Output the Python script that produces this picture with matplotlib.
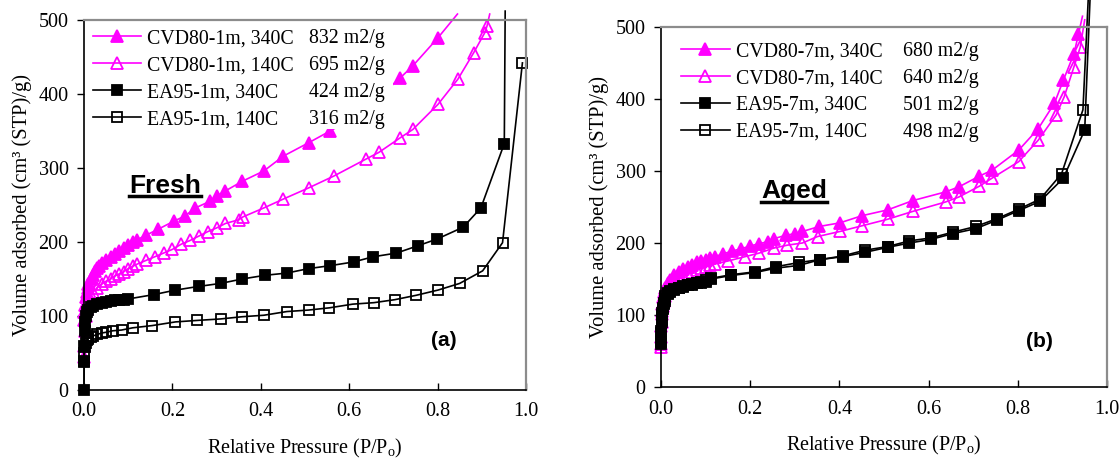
import matplotlib
matplotlib.use("Agg")
import matplotlib.pyplot as plt
from matplotlib.lines import Line2D
from matplotlib.patches import Rectangle
import matplotlib.ticker as ticker

plt.rcParams['font.family'] = ['Liberation Serif', 'DejaVu Serif']
plt.rcParams['mathtext.fontset'] = 'custom'
plt.rcParams['mathtext.rm'] = 'Liberation Serif'

MAGENTA = '#FF00FF'

# ---- (a) Fresh ----
a_cvd340_x = [0.0005, 0.001, 0.002, 0.004, 0.006, 0.008, 0.01, 0.015, 0.02, 0.025, 0.03, 0.035, 0.04,
              0.05, 0.06, 0.07, 0.08, 0.09, 0.1, 0.11, 0.12, 0.14, 0.167, 0.203, 0.228, 0.252, 0.285,
              0.3, 0.32, 0.358, 0.407, 0.451, 0.508, 0.557, 0.61, 0.66, 0.716, 0.744, 0.801, 0.845]
a_cvd340_y = [95, 105, 115, 125, 132, 138, 143, 150, 156, 161, 165, 168, 171,
              176, 180, 184, 188, 192, 196, 200, 203, 209, 217, 228, 235, 246, 255,
              262, 269, 282, 296, 316, 334, 350, 368, 392, 422, 438, 476, 508]

a_cvd140_x = [0.0005, 0.001, 0.002, 0.004, 0.006, 0.008, 0.01, 0.015, 0.02, 0.03, 0.04, 0.05, 0.06,
              0.07, 0.08, 0.09, 0.1, 0.11, 0.12, 0.14, 0.16, 0.18, 0.2, 0.22, 0.24, 0.26, 0.28, 0.3,
              0.32, 0.35, 0.36, 0.407, 0.451, 0.508, 0.565, 0.638, 0.667, 0.716, 0.744, 0.801,
              0.846, 0.882, 0.907, 0.912, 0.918]
a_cvd140_y = [45, 60, 80, 100, 110, 117, 122, 128, 132, 138, 143, 147, 150,
              154, 157, 160, 164, 167, 170, 175, 180, 185, 190, 197, 202, 208, 214, 219,
              225, 230, 234, 246, 258, 273, 289, 312, 321, 341, 352, 386,
              420, 456, 483, 492, 508]

a_ea340_x = [0.0, 0.0005, 0.001, 0.002, 0.003, 0.005, 0.007, 0.01, 0.015, 0.02, 0.03, 0.04, 0.05,
             0.06, 0.07, 0.08, 0.09, 0.1, 0.159, 0.207, 0.26, 0.309, 0.358, 0.41, 0.459, 0.508,
             0.557, 0.61, 0.654, 0.707, 0.756, 0.799, 0.858, 0.898, 0.951, 0.953]
a_ea340_y = [0, 38, 60, 80, 92, 100, 105, 108, 112, 114, 116, 118, 119,
             120, 121, 122, 122, 123, 129, 135, 140, 144, 150, 155, 158, 164,
             168, 173, 180, 185, 195, 204, 220, 246, 333, 512]

a_ea140_x = [0.0005, 0.001, 0.002, 0.004, 0.006, 0.008, 0.01, 0.015, 0.02, 0.03, 0.04, 0.05, 0.065,
             0.085, 0.11, 0.154, 0.207, 0.256, 0.309, 0.358, 0.407, 0.459, 0.508, 0.555, 0.608,
             0.656, 0.703, 0.752, 0.801, 0.85, 0.902, 0.947, 0.992]
a_ea140_y = [39, 50, 58, 64, 67, 69, 70, 72, 73, 75, 77, 78, 80,
             81, 84, 87, 92, 94, 96, 99, 101, 106, 108, 111, 116,
             118, 122, 128, 135, 144, 161, 199, 442]

# ---- (b) Aged ----
b_cvd340_x = [0.0005, 0.001, 0.002, 0.003, 0.005, 0.007, 0.01, 0.015, 0.02, 0.03, 0.04, 0.05, 0.06,
              0.07, 0.08, 0.09, 0.1, 0.11, 0.12, 0.14, 0.16, 0.18, 0.2, 0.22, 0.24, 0.253, 0.281,
              0.301, 0.317, 0.355, 0.401, 0.451, 0.508, 0.565, 0.638, 0.668, 0.714, 0.742, 0.802,
              0.846, 0.882, 0.902, 0.926, 0.936, 0.945]
b_cvd340_y = [60, 85, 105, 115, 125, 132, 138, 145, 149, 155, 160, 164, 167,
              170, 173, 175, 177, 179, 181, 185, 189, 192, 196, 199, 202, 206, 211,
              213, 216, 223, 228, 238, 246, 259, 271, 278, 293, 301, 329,
              359, 394, 426, 463, 490, 515]

b_cvd140_x = [0.0005, 0.001, 0.002, 0.003, 0.005, 0.007, 0.01, 0.015, 0.02, 0.03, 0.04, 0.05, 0.06,
              0.07, 0.08, 0.09, 0.1, 0.11, 0.12, 0.15, 0.188, 0.22, 0.253, 0.283, 0.317, 0.351,
              0.401, 0.451, 0.508, 0.565, 0.638, 0.668, 0.714, 0.742, 0.802, 0.846, 0.886, 0.904,
              0.926, 0.94, 0.95]
b_cvd140_y = [55, 70, 90, 102, 112, 120, 127, 134, 139, 145, 150, 154, 157,
              160, 163, 165, 167, 169, 171, 175, 181, 186, 193, 197, 200, 209,
              216, 224, 233, 244, 257, 264, 279, 290, 313, 343, 378, 403,
              445, 472, 510]

b_ea340_x = [0.0005, 0.001, 0.002, 0.003, 0.004, 0.006, 0.008, 0.01, 0.015, 0.02, 0.03, 0.04, 0.05,
             0.06, 0.07, 0.08, 0.09, 0.1, 0.112, 0.158, 0.211, 0.257, 0.31, 0.357, 0.407, 0.457,
             0.508, 0.557, 0.605, 0.654, 0.706, 0.754, 0.802, 0.85, 0.902, 0.95, 0.962]
b_ea340_y = [60, 75, 90, 100, 108, 115, 120, 124, 129, 132, 135, 137, 139,
             141, 142, 144, 145, 146, 150, 155, 159, 165, 169, 177, 181, 187,
             194, 200, 205, 213, 220, 232, 245, 258, 290, 357, 540]

b_ea140_x = [0.0005, 0.001, 0.002, 0.003, 0.004, 0.006, 0.008, 0.01, 0.015, 0.02, 0.03, 0.04, 0.05,
             0.06, 0.07, 0.08, 0.09, 0.1, 0.112, 0.158, 0.211, 0.257, 0.31, 0.357, 0.407, 0.457,
             0.508, 0.557, 0.605, 0.654, 0.706, 0.754, 0.802, 0.85, 0.898, 0.946, 0.958]
b_ea140_y = [62, 78, 93, 103, 110, 117, 122, 126, 130, 133, 136, 138, 140,
             142, 143, 145, 146, 148, 151, 156, 160, 167, 173, 177, 182, 190,
             195, 203, 207, 215, 223, 234, 247, 261, 296, 385, 540]

a_names = ['CVD80-1m, 340C', 'CVD80-1m, 140C', 'EA95-1m, 340C', 'EA95-1m, 140C']
a_areas = ['832 m2/g', '695 m2/g', '424 m2/g', '316 m2/g']
b_names = ['CVD80-7m, 340C', 'CVD80-7m, 140C', 'EA95-7m, 340C', 'EA95-7m, 140C']
b_areas = ['680 m2/g', '640 m2/g', '501 m2/g', '498 m2/g']

x_ticks = [0.0, 0.2, 0.4, 0.6, 0.8, 1.0]
y_ticks = [0, 100, 200, 300, 400, 500]

# marker styles for the four series: (color, marker, filled, size)
styles = [(MAGENTA, '^', True, 8), (MAGENTA, '^', False, 8),
          ('black', 's', True, 6.5), ('black', 's', False, 6.5)]


def draw_series(ax, xs, ys, st, cut_top):
    color, marker, filled, ms = st
    n = len(xs)
    # last point lies above the frame: keep its line but not its marker
    every = list(range(n - 1)) if cut_top else list(range(n))
    ax.plot(xs, ys, color=color, lw=1.2, marker=marker, ms=ms, markevery=every,
            mfc=color if filled else 'none', mec=color, mew=1.3, clip_on=False, zorder=2)


def setup_axes(ax):
    ax.set_xlim(0, 1.0)
    ax.set_ylim(0, 500)
    ax.set_xticks(x_ticks)
    ax.set_yticks(y_ticks)
    ax.xaxis.set_major_formatter(ticker.FormatStrFormatter('%.1f'))
    ax.tick_params(axis='x', direction='in', length=5, width=1, pad=9, labelsize=14.5, top=False)
    ax.tick_params(axis='y', direction='out', length=5, width=1, pad=6, labelsize=14.5, right=False)
    for side in ['top', 'right']:
        ax.spines[side].set_color('#8c8c8c')
        ax.spines[side].set_linewidth(1.6)
    for side in ['left', 'bottom']:
        ax.spines[side].set_color('black')
        ax.spines[side].set_linewidth(1.2)
    ax.set_xlabel('Relative Pressure (P/P$_\\mathregular{o}$)', fontsize=14.5, labelpad=11)
    ax.set_ylabel('Volume adsorbed (cm\u00b3 (STP)/g)', fontsize=14.8, labelpad=5)


def add_legend(ax, names, areas, x0, x1, y0):
    handles = []
    for st in styles:
        color, marker, filled, ms = st
        handles.append(Line2D([], [], color=color, lw=1.2, marker=marker, ms=ms,
                              mfc=color if filled else 'none', mec=color, mew=1.3))
    leg = ax.legend(handles, names, loc='upper left', bbox_to_anchor=(x0, y0), frameon=False,
                    fontsize=14.3, handlelength=2.45, handletextpad=0.3, labelspacing=0.4,
                    borderpad=0, borderaxespad=0, numpoints=1)
    leg.set_zorder(5)
    ax.add_artist(leg)
    blanks = [Line2D([], [], lw=0) for _ in areas]
    leg2 = ax.legend(blanks, areas, loc='upper left', bbox_to_anchor=(x1, y0), frameon=False,
                     fontsize=14.3, handlelength=0, handletextpad=0, labelspacing=0.4,
                     borderpad=0, borderaxespad=0)
    leg2.set_zorder(5)


fig = plt.figure(figsize=(11.2, 4.58), dpi=100)
ax1 = fig.add_axes([0.075, 0.1485, 0.3946, 0.8079])
ax2 = fig.add_axes([0.5902, 0.155, 0.3982, 0.786])

for ax in [ax1, ax2]:
    setup_axes(ax)

a_data = [(a_cvd340_x, a_cvd340_y, True), (a_cvd140_x, a_cvd140_y, True),
          (a_ea340_x, a_ea340_y, True), (a_ea140_x, a_ea140_y, False)]
b_data = [(b_cvd340_x, b_cvd340_y, True), (b_cvd140_x, b_cvd140_y, True),
          (b_ea340_x, b_ea340_y, True), (b_ea140_x, b_ea140_y, True)]

for (xs, ys, cut), st in zip(a_data, styles):
    draw_series(ax1, xs, ys, st, cut)
for (xs, ys, cut), st in zip(b_data, styles):
    draw_series(ax2, xs, ys, st, cut)

# the white legend area of panel (a) hides part of the top curve
ax1.add_patch(Rectangle((0.004, 352), 0.696, 147, facecolor='white', edgecolor='none', zorder=2.2))

add_legend(ax1, a_names, a_areas, 0.02, 0.509, 0.975)
add_legend(ax2, b_names, b_areas, 0.045, 0.543, 0.958)

t1 = ax1.text(0.102, 266, 'Fresh', fontsize=19, fontweight='bold', family='Liberation Sans')
t2 = ax2.text(0.225, 262, 'Aged', fontsize=19, fontweight='bold', family='Liberation Sans')
ax1.text(0.785, 60, '(a)', fontsize=15, fontweight='bold', family='Liberation Sans')
ax2.text(0.818, 55, '(b)', fontsize=15, fontweight='bold', family='Liberation Sans')

# underline the panel titles
fig.canvas.draw()
renderer = fig.canvas.get_renderer()
for t in [t1, t2]:
    bb = t.get_window_extent(renderer).transformed(fig.transFigure.inverted())
    yline = bb.y0 + 0.004
    fig.add_artist(Line2D([bb.x0, bb.x1], [yline, yline], transform=fig.transFigure,
                          color='black', lw=2.5))

fig.savefig('out.png', dpi=100)
